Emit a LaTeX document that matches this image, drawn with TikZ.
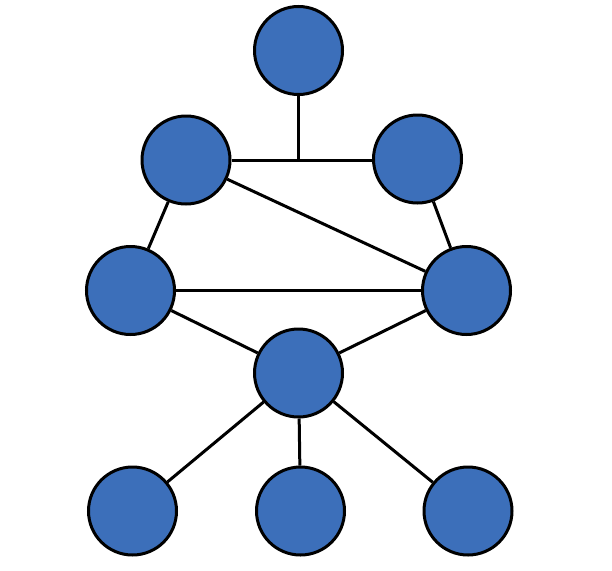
\documentclass[tikz,border=0pt]{standalone}
\usepackage{xcolor}
\usepackage{tikz}
\usetikzlibrary{positioning}

\definecolor{nodeblue}{RGB}{60,111,186}

\begin{document}
\begin{tikzpicture}[
  x=1pt, y=-1pt,
  vert/.style={circle, draw=black, fill=nodeblue, line width=3pt,
    minimum size=88pt, inner sep=0pt},
  edge/.style={draw=black, line width=3pt}
]
  \useasboundingbox (0,0) rectangle (612,570);

  \node[vert] (top)    at (298.5, 50.5) {};
  \node[vert] (uleft)  at (186, 160) {};
  \node[vert] (uright) at (417.5, 159) {};
  \node[vert] (mleft)  at (130.5, 290.5) {};
  \node[vert] (mright) at (466.5, 290.5) {};
  \node[vert] (hub)    at (298.5, 373) {};
  \node[vert] (bleft)  at (132.5, 511) {};
  \node[vert] (bmid)   at (300.5, 511) {};
  \node[vert] (bright) at (468, 511) {};

  \coordinate (junc) at (298.5, 160);

  \draw[edge] (uleft.east |- junc) -- (uright.west |- junc);
  \draw[edge] (top)    -- (junc);
  \draw[edge] (uleft)  -- (mleft);
  \draw[edge] (uleft)  -- (mright);
  \draw[edge] (uright) -- (mright);
  \draw[edge] (mleft)  -- (mright);
  \draw[edge] (mleft)  -- (hub);
  \draw[edge] (mright) -- (hub);
  \draw[edge] (hub)    -- (bleft);
  \draw[edge] (hub)    -- (bmid);
  \draw[edge] (hub)    -- (bright);
\end{tikzpicture}
\end{document}
